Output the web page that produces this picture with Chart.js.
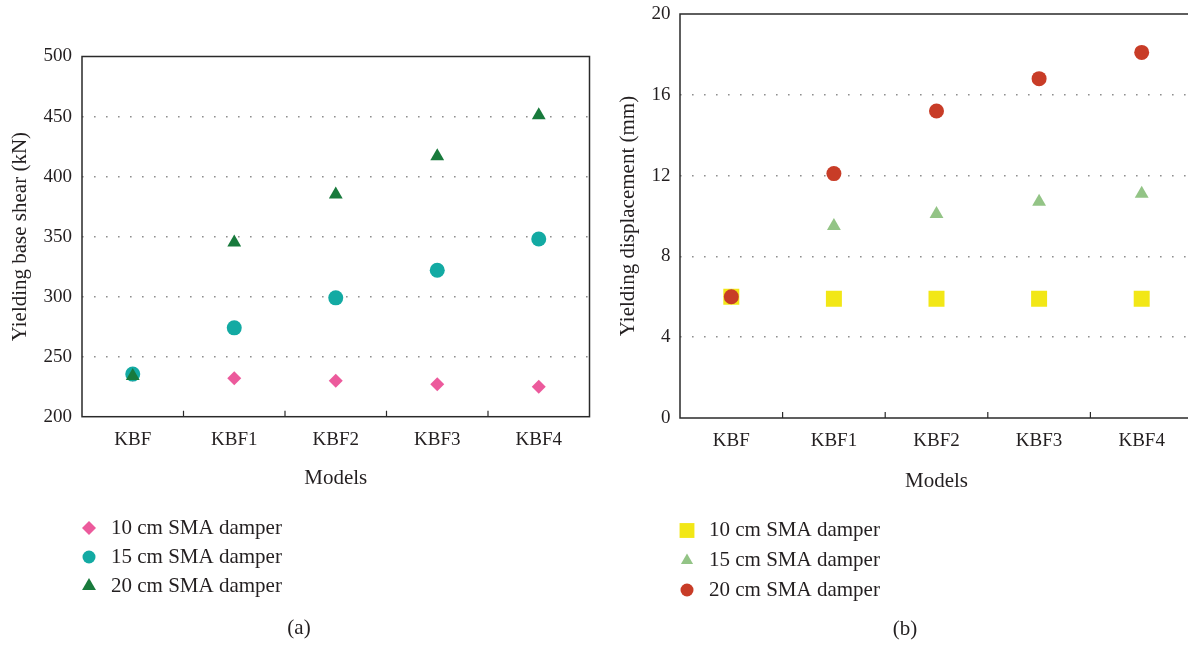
<!DOCTYPE html>
<html>
<head>
<meta charset="utf-8">
<script src="https://cdn.jsdelivr.net/npm/chart.js@4.4.1/dist/chart.umd.min.js"></script>
<style>
    html, body { margin: 0; padding: 0; background: #fff; overflow: hidden; }
    body { width: 1188px; height: 646px; position: relative; }
    .panel { position: absolute; top: 0; width: 600px; height: 646px; }
    #panelA { left: 0; }
    #panelB { left: 600px; }
</style>
</head>
<body>
<div class="panel" id="panelA"><canvas id="shearChart" width="600" height="646"></canvas></div>
<div class="panel" id="panelB"><canvas id="dispChart" width="600" height="646"></canvas></div>
<script>
const models = ['KBF', 'KBF1', 'KBF2', 'KBF3', 'KBF4'];
const seriesNames = ['10 cm SMA damper', '15 cm SMA damper', '20 cm SMA damper'];

// yielding base shear (kN)
const shear10 = [235, 232, 230, 227, 225];
const shear15 = [235.5, 274, 299, 322, 348];
const shear20 = [234, 345, 385, 417, 451];
const shearTicks = [200, 250, 300, 350, 400, 450, 500];

// yielding displacement (mm)
const disp10 = [6.0, 5.9, 5.9, 5.9, 5.9];
const disp15 = [6.0, 9.5, 10.1, 10.7, 11.1];
const disp20 = [6.0, 12.1, 15.2, 16.8, 18.1];
const dispTicks = [0, 4, 8, 12, 16, 20];

const textColor = '#231f20';
const serif = 'Liberation Serif';

// box round the plot area plus small inward ticks between categories
const framePlugin = {
    id: 'frame',
    beforeDatasetsDraw(chart) {
        const {ctx, chartArea: a} = chart;
        const x = chart.scales.x;
        ctx.save();
        ctx.strokeStyle = '#2a2a2a';
        ctx.lineWidth = 1.5;
        ctx.strokeRect(a.left, a.top, a.right - a.left, a.bottom - a.top);
        ctx.beginPath();
        for (let i = 1; i < models.length; i++) {
            const px = (x.getPixelForValue(i - 1) + x.getPixelForValue(i)) / 2;
            ctx.moveTo(px, a.bottom);
            ctx.lineTo(px, a.bottom - 6);
        }
        ctx.lineWidth = 1.2;
        ctx.stroke();
        ctx.restore();
    }
};

// stacked legend under the axis, and the panel caption
const keyPlugin = {
    id: 'key',
    afterDraw(chart, args, opts) {
        const {ctx} = chart;
        ctx.save();
        ctx.font = '21px "' + serif + '"';
        ctx.textBaseline = 'middle';
        chart.data.datasets.forEach((ds, i) => {
            const y = opts.rows[i];
            ctx.fillStyle = ds.backgroundColor;
            Chart.helpers.drawPoint(ctx, {pointStyle: ds.pointStyle, radius: opts.radii[i], rotation: 0, borderWidth: 0}, opts.markX, y);
            ctx.fillStyle = textColor;
            ctx.textAlign = 'left';
            ctx.fillText(ds.label, opts.textX, y);
        });
        ctx.textAlign = 'center';
        ctx.fillText(opts.caption, opts.captionX, opts.captionY);
        ctx.restore();
    }
};

function scatterSet(label, data, color, style, radius, order) {
    return {
        label: label,
        data: data,
        showLine: false,
        backgroundColor: color,
        borderColor: color,
        pointStyle: style,
        pointRadius: radius,
        pointHoverRadius: radius,
        pointBorderWidth: 0,
        order: order
    };
}

function makeChart(id, cfg) {
    return new Chart(document.getElementById(id), {
        type: 'line',
        data: {labels: models, datasets: cfg.datasets},
        options: {
            responsive: false,
            animation: false,
            events: [],
            layout: {padding: cfg.padding, autoPadding: false},
            plugins: {
                legend: {display: false},
                tooltip: {enabled: false},
                key: cfg.key
            },
            scales: {
                x: {
                    offset: true,
                    grid: {display: false},
                    border: {display: false},
                    ticks: {color: textColor, font: {family: serif, size: 19}, padding: cfg.xTickPad, autoSkip: false, maxRotation: 0},
                    title: {display: true, text: 'Models', color: textColor, font: {family: serif, size: 21, lineHeight: 1.2}, padding: 0},
                    afterFit: s => {
                        s.height = cfg.xHeight;
                        s.paddingLeft = 0;
                        s.paddingRight = 0;
                    }
                },
                y: {
                    min: cfg.ticks[0],
                    max: cfg.ticks[cfg.ticks.length - 1],
                    afterBuildTicks: s => { s.ticks = cfg.ticks.map(v => ({value: v})); },
                    grid: {
                        drawTicks: false,
                        lineWidth: 1.6,
                        color: c => (c.tick.value === cfg.ticks[0] || c.tick.value === cfg.ticks[cfg.ticks.length - 1]) ? 'rgba(0,0,0,0)' : '#8f8f8f'
                    },
                    border: {display: false, dash: [1.6, 10.4]},
                    ticks: {color: textColor, font: {family: serif, size: 19}, padding: cfg.yTickPad},
                    title: {display: true, text: cfg.yTitle, color: textColor, font: {family: serif, size: 21, lineHeight: 1.2}, padding: 0},
                    afterFit: s => {
                        s.width = cfg.yWidth;
                        s.paddingTop = 0;
                        s.paddingBottom = 0;
                    }
                }
            }
        },
        plugins: [framePlugin, keyPlugin]
    });
}

makeChart('shearChart', {
    datasets: [
        scatterSet(seriesNames[0], shear10, '#ec5a9c', 'rectRot', 7, 3),
        scatterSet(seriesNames[1], shear15, '#13aaa3', 'circle', 7.5, 2),
        scatterSet(seriesNames[2], shear20, '#187a3c', 'triangle', 8, 1)
    ],
    ticks: shearTicks,
    yTitle: 'Yielding base shear (kN)',
    padding: {left: 8, right: 10.5, top: 56.5, bottom: 155.3},
    yWidth: 74,
    xHeight: 74,
    yTickPad: 10,
    xTickPad: 4,
    key: {markX: 89, textX: 111, rows: [528, 557, 586], radii: [7, 6.5, 8], caption: '(a)', captionX: 299, captionY: 628}
});

makeChart('dispChart', {
    datasets: [
        scatterSet(seriesNames[0], disp10, '#f2e716', 'rect', 11.3, 3),
        scatterSet(seriesNames[1], disp15, '#93c486', 'triangle', 8, 2),
        scatterSet(seriesNames[2], disp20, '#c83c27', 'circle', 7.5, 1)
    ],
    ticks: dispTicks,
    yTitle: 'Yielding displacement (mm)',
    padding: {left: 16, right: 7, top: 14, bottom: 152},
    yWidth: 64,
    xHeight: 76,
    yTickPad: 9.5,
    xTickPad: 4,
    key: {markX: 87, textX: 109, rows: [530.5, 560.5, 590], radii: [10.5, 7, 6.5], caption: '(b)', captionX: 305, captionY: 629}
});
</script>
</body>
</html>
